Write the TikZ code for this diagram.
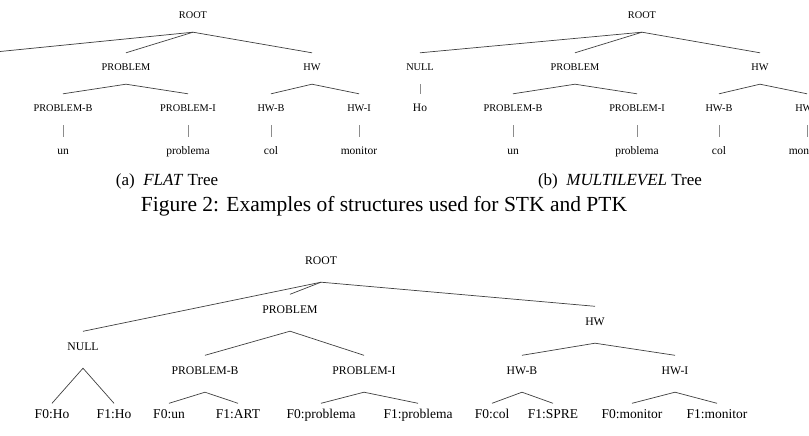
\documentclass[tikz,border=0pt]{standalone}
\usepackage{fontspec}
\setmainfont{Liberation Serif}
\begin{document}
\begin{tikzpicture}[x=1pt,y=-1pt,
  tlab/.style={font=\fontsize{10.3}{12}\selectfont, text=black, anchor=base, inner sep=0pt, text height=17.4pt, text depth=13.6pt},
  tword/.style={font=\fontsize{11.5}{13}\selectfont, text=black, anchor=base, inner sep=0pt, text height=17pt, text depth=0pt},
  blab/.style={font=\fontsize{11.7}{13}\selectfont, text=black, anchor=base, inner sep=0pt, text height=19.4pt, text depth=17.1pt},
  bleaf/.style={font=\fontsize{13.5}{15}\selectfont, text=black, anchor=base, inner sep=0pt, text height=15pt, text depth=0pt},
  captxt/.style={anchor=center, inner sep=0pt, text=black},
  edge/.style={draw=black!75, line width=0.7pt},
  bar/.style={draw=black!45, line width=0.8pt}]
\fill[white] (0,0) rectangle (809,436);
\clip (0,0) rectangle (809,436);

% ---------- (a) FLAT tree ----------
\node[tlab] (aRoot) at (193,18.4) {ROOT};
\node[tlab] (aProb) at (126,70.4) {PROBLEM};
\node[tlab] (aHw)   at (312,70.4) {HW};
\node[tlab] (aPB) at (63,111.4) {PROBLEM-B};
\node[tlab] (aPI) at (188,111.4) {PROBLEM-I};
\node[tlab] (aHB) at (271,111.4) {HW-B};
\node[tlab] (aHI) at (359,111.4) {HW-I};
\node[tword] (aUn)  at (63,154) {un};
\node[tword] (aPro) at (188,154) {problema};
\node[tword] (aCol) at (271,154) {col};
\node[tword] (aMon) at (359,154) {monitor};
\coordinate (aNull) at (0,51.5);
\draw[edge] (aRoot.south) -- (aNull);
\draw[edge] (aRoot.south) -- (aProb.north);
\draw[edge] (aRoot.south) -- (aHw.north);
\draw[edge] (aProb.south) -- (aPB.north);
\draw[edge] (aProb.south) -- (aPI.north);
\draw[edge] (aHw.south) -- (aHB.north);
\draw[edge] (aHw.south) -- (aHI.north);
\draw[bar] (aPB.south) -- (aUn.north);
\draw[bar] (aPI.south) -- (aPro.north);
\draw[bar] (aHB.south) -- (aCol.north);
\draw[bar] (aHI.south) -- (aMon.north);

% ---------- (b) MULTILEVEL tree ----------
\node[tlab] (bRoot) at (642,18.4) {ROOT};
\node[tlab] (bNull) at (420,70.4) {NULL};
\node[tlab] (bProb) at (575,70.4) {PROBLEM};
\node[tlab] (bHw)   at (760,70.4) {HW};
\node[tword] (bHo) at (420,111.5) {Ho};
\node[tlab] (bPB) at (513,111.4) {PROBLEM-B};
\node[tlab] (bPI) at (637,111.4) {PROBLEM-I};
\node[tlab] (bHB) at (719,111.4) {HW-B};
\node[tlab] (bHI) at (807,111.4) {HW-I};
\node[tword] (bUn)  at (513,154) {un};
\node[tword] (bPro) at (637,154) {problema};
\node[tword] (bCol) at (719,154) {col};
\node[tword] (bMon) at (807,154) {monitor};
\draw[edge] (bRoot.south) -- (bNull.north);
\draw[edge] (bRoot.south) -- (bProb.north);
\draw[edge] (bRoot.south) -- (bHw.north);
\draw[edge] (bProb.south) -- (bPB.north);
\draw[edge] (bProb.south) -- (bPI.north);
\draw[edge] (bHw.south) -- (bHB.north);
\draw[edge] (bHw.south) -- (bHI.north);
\draw[bar] (bNull.south) -- (bHo.north);
\draw[bar] (bPB.south) -- (bUn.north);
\draw[bar] (bPI.south) -- (bPro.north);
\draw[bar] (bHB.south) -- (bCol.north);
\draw[bar] (bHI.south) -- (bMon.north);

% ---------- captions ----------
\node[captxt, font=\fontsize{17}{20}\selectfont] (capA) at (167,181) {(a)\hspace{0.5em}\textit{FLAT} Tree};
\node[captxt, font=\fontsize{17}{20}\selectfont] (capB) at (620,181) {(b)\hspace{0.5em}\textit{MULTILEVEL} Tree};
\node[captxt, font=\fontsize{21.5}{24}\selectfont] (fig) at (384,206) {Figure 2: Examples of structures used for STK and PTK};

% ---------- bottom tree ----------
\node[blab] (cRoot) at (321,264.9) {ROOT};
\node[blab] (cNull) at (83,350.9) {NULL};
\node[blab] (cProb) at (290,313.9) {PROBLEM};
\node[blab] (cHw)   at (595,325.9) {HW};
\node[blab] (cPB) at (205,374.9) {PROBLEM-B};
\node[blab] (cPI) at (364,374.9) {PROBLEM-I};
\node[blab] (cHB) at (522,374.9) {HW-B};
\node[blab] (cHI) at (675,374.9) {HW-I};
\node[bleaf] (l1)  at (52,418.5)  {F0:Ho};
\node[bleaf] (l2)  at (114,418.5) {F1:Ho};
\node[bleaf] (l3)  at (169,418.5) {F0:un};
\node[bleaf] (l4)  at (238,418.5) {F1:ART};
\node[bleaf] (l5)  at (321,418.5) {F0:problema};
\node[bleaf] (l6)  at (418,418.5) {F1:problema};
\node[bleaf] (l7)  at (492,418.5) {F0:col};
\node[bleaf] (l8)  at (553,418.5) {F1:SPRE};
\node[bleaf] (l9)  at (632,418.5) {F0:monitor};
\node[bleaf] (l10) at (717,418.5) {F1:monitor};
\draw[edge] (cRoot.south) -- (cNull.north);
\draw[edge] (cRoot.south) -- (cProb.north);
\draw[edge] (cRoot.south) -- (cHw.north);
\draw[edge] (cNull.south) -- (l1.north);
\draw[edge] (cNull.south) -- (l2.north);
\draw[edge] (cProb.south) -- (cPB.north);
\draw[edge] (cProb.south) -- (cPI.north);
\draw[edge] (cHw.south) -- (cHB.north);
\draw[edge] (cHw.south) -- (cHI.north);
\draw[edge] (cPB.south) -- (l3.north);
\draw[edge] (cPB.south) -- (l4.north);
\draw[edge] (cPI.south) -- (l5.north);
\draw[edge] (cPI.south) -- (l6.north);
\draw[edge] (cHB.south) -- (l7.north);
\draw[edge] (cHB.south) -- (l8.north);
\draw[edge] (cHI.south) -- (l9.north);
\draw[edge] (cHI.south) -- (l10.north);
\end{tikzpicture}
\end{document}
